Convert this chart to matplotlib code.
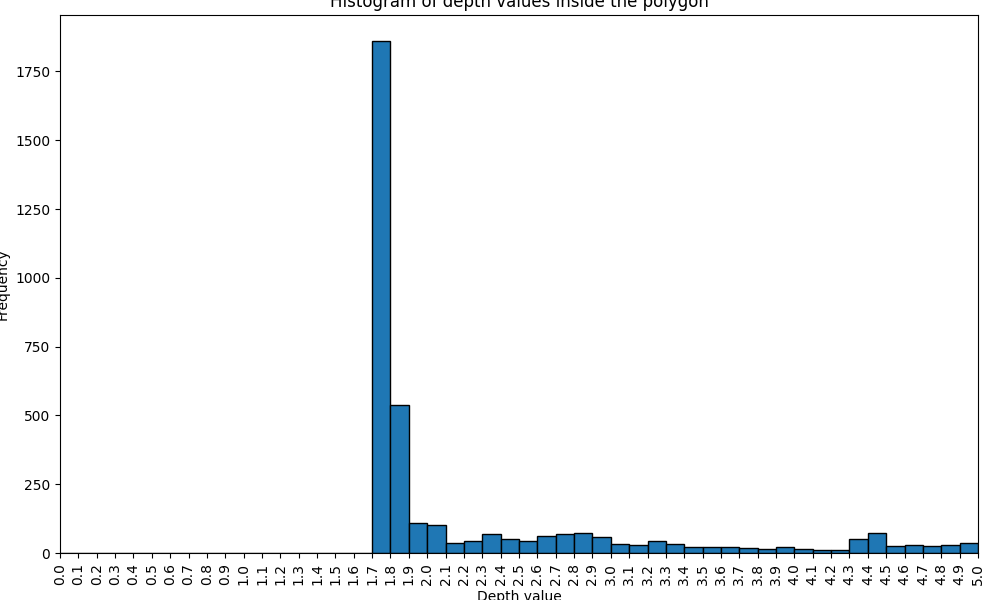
import numpy as np
import matplotlib
matplotlib.use("Agg")
import matplotlib.pyplot as plt

# Histogram bin edges (0.0 to 5.0 step 0.1) and counts per bin
bin_edges = [round(i * 0.1, 1) for i in range(51)]
counts = [0] * 17 + [
    1862, 537, 108, 101, 35, 43, 68, 50, 43, 61,
    68, 72, 58, 32, 28, 43, 32, 22, 22, 22,
    17, 13, 22, 14, 10, 10, 50, 72, 25, 28,
    25, 28, 35,
]
tick_labels = [f"{v:.1f}" for v in bin_edges]

fig = plt.figure(figsize=(10, 6), dpi=100)
ax = fig.add_axes([0.06, 0.0783, 0.918, 0.8967])

centers = [(bin_edges[i] + bin_edges[i + 1]) / 2 for i in range(50)]
ax.hist(centers, bins=bin_edges, weights=counts, color="#1f77b4", edgecolor="black")

ax.set_xlim(0, 5.0)
ax.set_xticks(bin_edges)
ax.set_xticklabels(tick_labels, rotation=90)
ax.set_yticks([0, 250, 500, 750, 1000, 1250, 1500, 1750])
ax.set_title("Histogram of depth values inside the polygon")
ax.set_xlabel("Depth value")
ax.set_ylabel("Frequency")

fig.savefig("out.png", dpi=100)
